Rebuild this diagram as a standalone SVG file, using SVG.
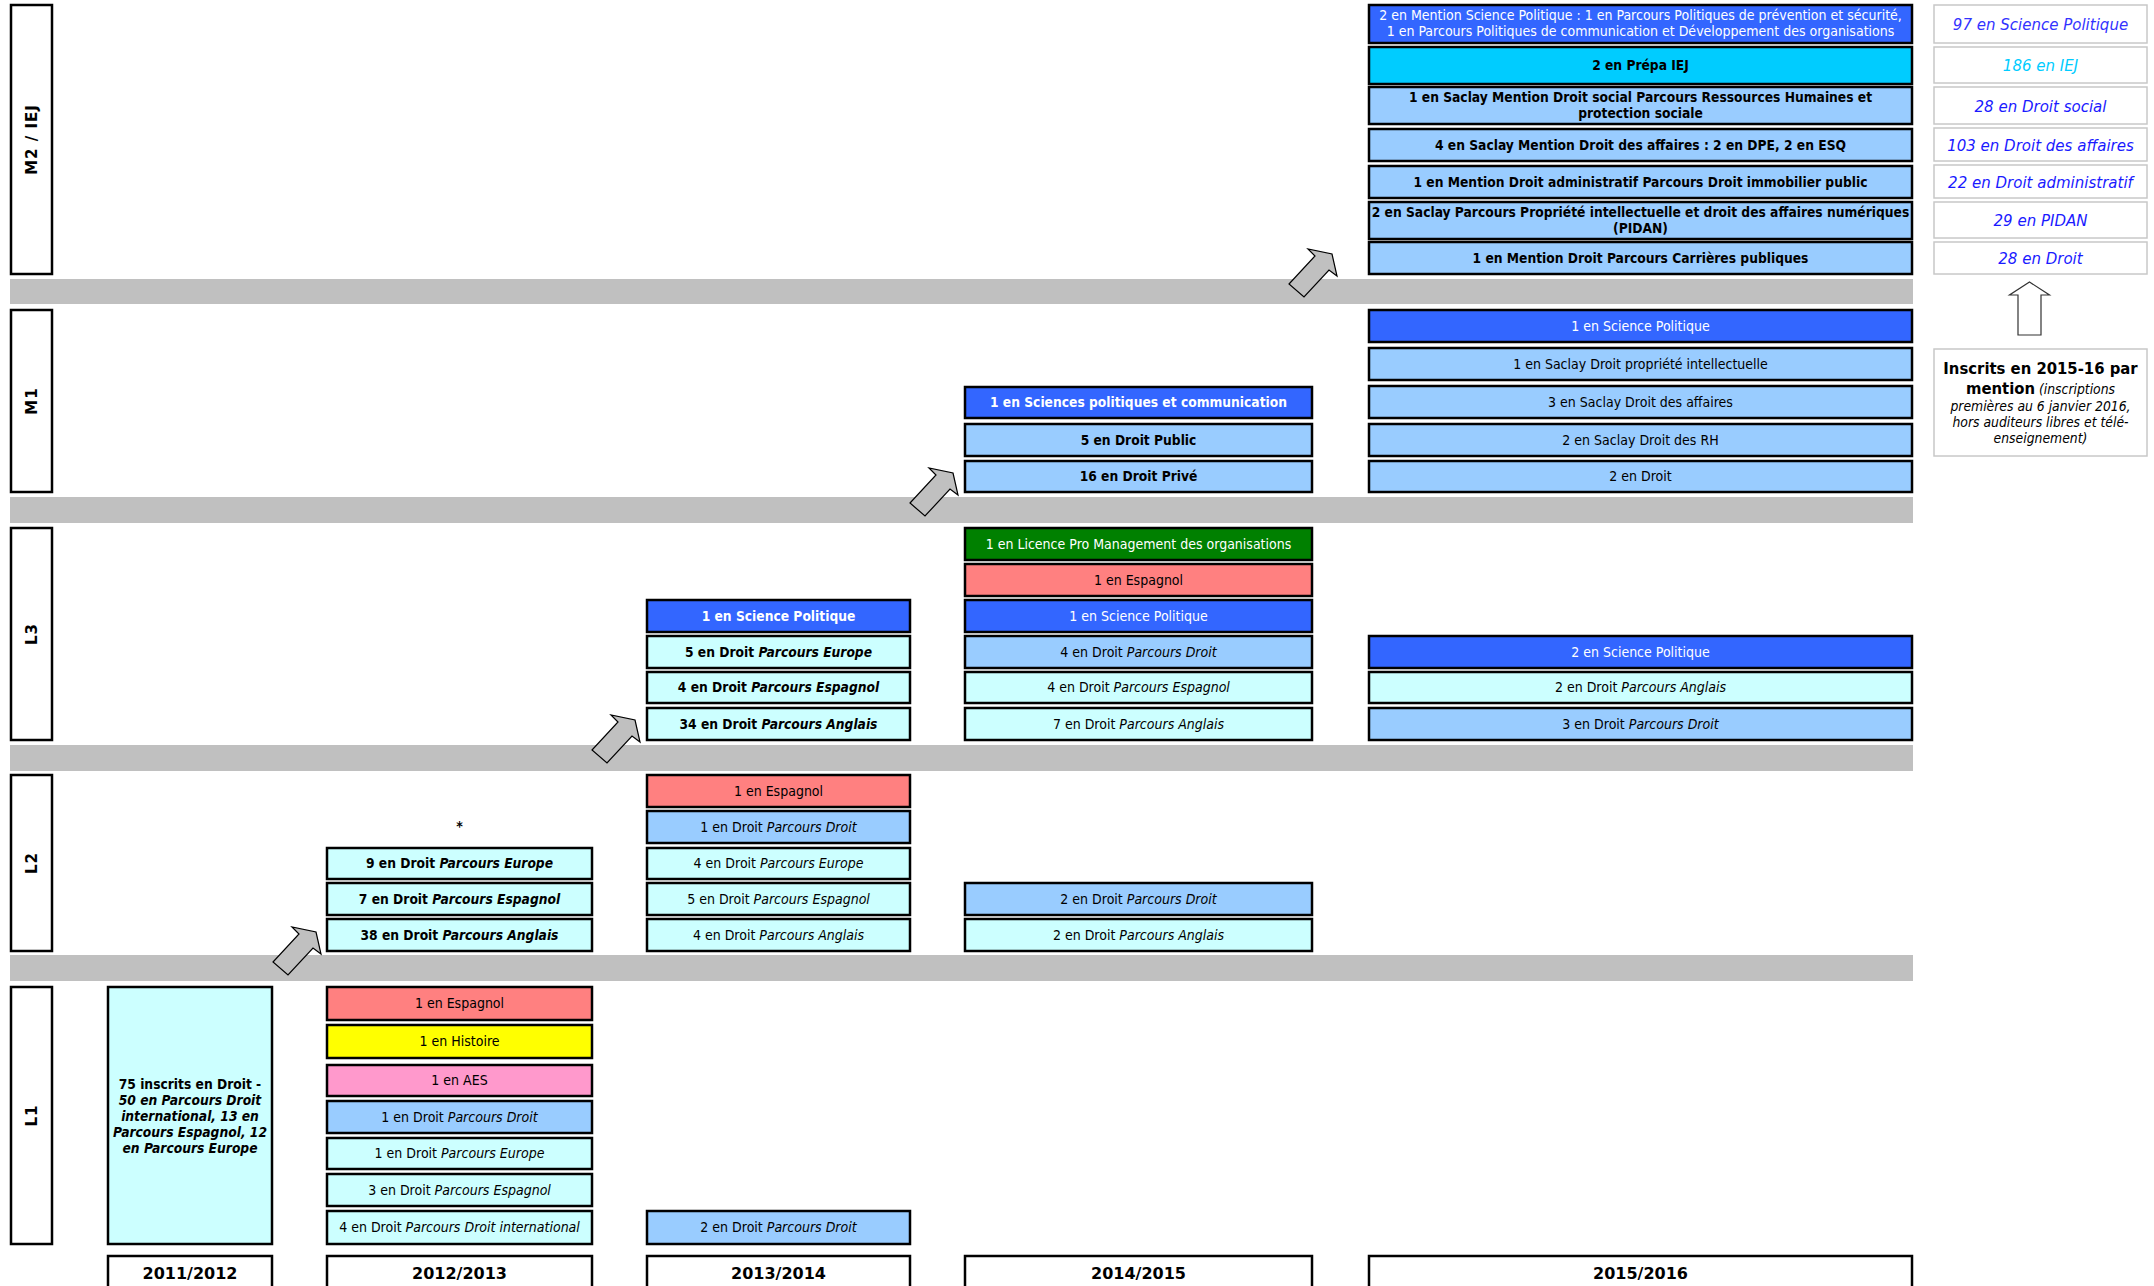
<svg xmlns="http://www.w3.org/2000/svg" width="2154" height="1286" viewBox="0 0 2154 1286">
<style>
.bx{stroke:#000;stroke-width:2.5}
.rb{fill:#fff;stroke:#c8c8c8;stroke-width:1.5}
.band{fill:#c0c0c0}
.t{font-family:"DejaVu Sans Condensed","DejaVu Sans",sans-serif;font-size:14px;text-anchor:middle;fill:#000}
.w{fill:#fff}
.bd{font-weight:bold;font-size:13.7px}
.it{font-style:italic}
.lv{font-family:"DejaVu Sans",sans-serif;font-size:15px;font-weight:bold;text-anchor:middle;letter-spacing:1px}
.yr{font-family:"DejaVu Sans",sans-serif;font-size:16px;font-weight:bold;text-anchor:middle}
.rt{font-family:"DejaVu Sans Condensed","DejaVu Sans",sans-serif;font-size:16.7px;font-style:italic;text-anchor:middle;fill:#1a1aff}
.sm{font-style:italic;font-size:13.8px;font-weight:normal}
.c1{fill:#3366ff}.c2{fill:#99ccff}.c3{fill:#ccffff}.c4{fill:#ff8080}.c5{fill:#00ccff}.c6{fill:#008000}.c7{fill:#ffff00}.c8{fill:#ff99cc}
</style>
<defs>
<polygon id="arr" points="0,0 5,22 -3,16 -28,43 -43,30 -17,2 -24,-5" fill="#c0c0c0" stroke="#000" stroke-width="1.2" stroke-linejoin="miter"/>
</defs>
<rect width="2154" height="1286" fill="#fff"/>

<g id="bands">
<rect class="band" x="10" y="279" width="1903" height="25"/>
<rect class="band" x="10" y="497" width="1903" height="26"/>
<rect class="band" x="10" y="745" width="1903" height="26"/>
<rect class="band" x="10" y="955" width="1903" height="26"/>
</g>

<g id="levels">
<g id="lv-m2"><rect x="11" y="5" width="41" height="269" fill="#fff" class="bx"/><text class="lv" transform="translate(37,139.5) rotate(-90)">M2 / IEJ</text></g>
<g id="lv-m1"><rect x="11" y="310" width="41" height="182" fill="#fff" class="bx"/><text class="lv" transform="translate(37,401) rotate(-90)">M1</text></g>
<g id="lv-l3"><rect x="11" y="528" width="41" height="212" fill="#fff" class="bx"/><text class="lv" transform="translate(37,634) rotate(-90)">L3</text></g>
<g id="lv-l2"><rect x="11" y="775" width="41" height="176" fill="#fff" class="bx"/><text class="lv" transform="translate(37,863) rotate(-90)">L2</text></g>
<g id="lv-l1"><rect x="11" y="987" width="41" height="257" fill="#fff" class="bx"/><text class="lv" transform="translate(37,1115.5) rotate(-90)">L1</text></g>
</g>

<g id="years">
<g id="y2011"><rect x="108" y="1256" width="164" height="40" fill="#fff" class="bx"/><text class="yr" x="190" y="1279">2011/2012</text></g>
<g id="y2012"><rect x="327" y="1256" width="265" height="40" fill="#fff" class="bx"/><text class="yr" x="459.5" y="1279">2012/2013</text></g>
<g id="y2013"><rect x="647" y="1256" width="263" height="40" fill="#fff" class="bx"/><text class="yr" x="778.5" y="1279">2013/2014</text></g>
<g id="y2014"><rect x="965" y="1256" width="347" height="40" fill="#fff" class="bx"/><text class="yr" x="1138.5" y="1279">2014/2015</text></g>
<g id="y2015"><rect x="1369" y="1256" width="543" height="40" fill="#fff" class="bx"/><text class="yr" x="1640.5" y="1279">2015/2016</text></g>
</g>

<!-- M2 / IEJ -->
<g id="m2-1"><rect x="1369" y="5" width="543" height="38" class="bx c1"/><text class="t w" x="1640.5" y="20">2 en Mention Science Politique : 1 en Parcours Politiques de prévention et sécurité,</text><text class="t w" x="1640.5" y="36">1 en Parcours Politiques de communication et Développement des organisations</text></g>
<g id="m2-2"><rect x="1369" y="47" width="543" height="37" class="bx c5"/><text class="t bd" x="1640.5" y="70">2 en Prépa IEJ</text></g>
<g id="m2-3"><rect x="1369" y="87" width="543" height="37" class="bx c2"/><text class="t bd" x="1640.5" y="102">1 en Saclay Mention Droit social Parcours Ressources Humaines et</text><text class="t bd" x="1640.5" y="118">protection sociale</text></g>
<g id="m2-4"><rect x="1369" y="129" width="543" height="32" class="bx c2"/><text class="t bd" x="1640.5" y="149.5">4 en Saclay Mention Droit des affaires : 2 en DPE, 2 en ESQ</text></g>
<g id="m2-5"><rect x="1369" y="166" width="543" height="32" class="bx c2"/><text class="t bd" x="1640.5" y="186.5">1 en Mention Droit administratif Parcours Droit immobilier public</text></g>
<g id="m2-6"><rect x="1369" y="202" width="543" height="37" class="bx c2"/><text class="t bd" x="1640.5" y="217">2 en Saclay Parcours Propriété intellectuelle et droit des affaires numériques</text><text class="t bd" x="1640.5" y="233">(PIDAN)</text></g>
<g id="m2-7"><rect x="1369" y="242" width="543" height="32" class="bx c2"/><text class="t bd" x="1640.5" y="262.5">1 en Mention Droit Parcours Carrières publiques</text></g>

<!-- right column -->
<g id="r1"><rect x="1934" y="5" width="213" height="38" class="rb"/><text class="rt" x="2040.5" y="30" style="fill:#3333ff">97 en Science Politique</text></g>
<g id="r2"><rect x="1934" y="47" width="213" height="36" class="rb"/><text class="rt" x="2040.5" y="71" style="fill:#00ccff">186 en IEJ</text></g>
<g id="r3"><rect x="1934" y="87" width="213" height="37" class="rb"/><text class="rt" x="2040.5" y="111.5">28 en Droit social</text></g>
<g id="r4"><rect x="1934" y="128" width="213" height="33" class="rb"/><text class="rt" x="2040.5" y="150.5">103 en Droit des affaires</text></g>
<g id="r5"><rect x="1934" y="165" width="213" height="33" class="rb"/><text class="rt" x="2040.5" y="187.5">22 en Droit administratif</text></g>
<g id="r6"><rect x="1934" y="202" width="213" height="36" class="rb"/><text class="rt" x="2040.5" y="226">29 en PIDAN</text></g>
<g id="r7"><rect x="1934" y="242" width="213" height="32" class="rb"/><text class="rt" x="2040.5" y="264">28 en Droit</text></g>
<g id="up-arrow"><polygon points="2029.5,282 2049.5,295 2041,295 2041,335 2018,335 2018,295 2009.5,295" fill="#fff" stroke="#333" stroke-width="1.2"/></g>
<g id="legend"><rect x="1934" y="349" width="213" height="107" class="rb"/>
<text class="t bd" x="2040.5" y="374" style="font-size:16.5px">Inscrits en 2015-16 par</text>
<text class="t" x="2040.5" y="394"><tspan class="bd" style="font-size:16.5px">mention</tspan><tspan class="sm"> (inscriptions</tspan></text>
<text class="t sm" x="2040.5" y="411">premières au 6 janvier 2016,</text>
<text class="t sm" x="2040.5" y="427">hors auditeurs libres et télé-</text>
<text class="t sm" x="2040.5" y="443">enseignement)</text>
</g>

<!-- M1 -->
<g id="m1-a1"><rect x="965" y="387" width="347" height="31" class="bx c1"/><text class="t w bd" x="1138.5" y="407">1 en Sciences politiques et communication</text></g>
<g id="m1-a2"><rect x="965" y="424" width="347" height="32" class="bx c2"/><text class="t bd" x="1138.5" y="444.5">5 en Droit Public</text></g>
<g id="m1-a3"><rect x="965" y="461" width="347" height="31" class="bx c2"/><text class="t bd" x="1138.5" y="481">16 en Droit Privé</text></g>
<g id="m1-b1"><rect x="1369" y="310" width="543" height="32" class="bx c1"/><text class="t w" x="1640.5" y="330.5">1 en Science Politique</text></g>
<g id="m1-b2"><rect x="1369" y="348" width="543" height="32" class="bx c2"/><text class="t" x="1640.5" y="368.5">1 en Saclay Droit propriété intellectuelle</text></g>
<g id="m1-b3"><rect x="1369" y="386" width="543" height="32" class="bx c2"/><text class="t" x="1640.5" y="406.5">3 en Saclay Droit des affaires</text></g>
<g id="m1-b4"><rect x="1369" y="424" width="543" height="32" class="bx c2"/><text class="t" x="1640.5" y="444.5">2 en Saclay Droit des RH</text></g>
<g id="m1-b5"><rect x="1369" y="461" width="543" height="31" class="bx c2"/><text class="t" x="1640.5" y="481">2 en Droit</text></g>

<!-- L3 -->
<g id="l3-a1"><rect x="647" y="600" width="263" height="32" class="bx c1"/><text class="t w bd" x="778.5" y="620.5">1 en Science Politique</text></g>
<g id="l3-a2"><rect x="647" y="636" width="263" height="32" class="bx c3"/><text class="t bd" x="778.5" y="656.5">5 en Droit <tspan class="it">Parcours Europe</tspan></text></g>
<g id="l3-a3"><rect x="647" y="672" width="263" height="31" class="bx c3"/><text class="t bd" x="778.5" y="692">4 en Droit <tspan class="it">Parcours Espagnol</tspan></text></g>
<g id="l3-a4"><rect x="647" y="708" width="263" height="32" class="bx c3"/><text class="t bd" x="778.5" y="728.5">34 en Droit <tspan class="it">Parcours Anglais</tspan></text></g>
<g id="l3-b1"><rect x="965" y="528" width="347" height="32" class="bx c6"/><text class="t w" x="1138.5" y="548.5">1 en Licence Pro Management des organisations</text></g>
<g id="l3-b2"><rect x="965" y="564" width="347" height="32" class="bx c4"/><text class="t" x="1138.5" y="584.5">1 en Espagnol</text></g>
<g id="l3-b3"><rect x="965" y="600" width="347" height="32" class="bx c1"/><text class="t w" x="1138.5" y="620.5">1 en Science Politique</text></g>
<g id="l3-b4"><rect x="965" y="636" width="347" height="32" class="bx c2"/><text class="t" x="1138.5" y="656.5">4 en Droit <tspan class="it">Parcours Droit</tspan></text></g>
<g id="l3-b5"><rect x="965" y="672" width="347" height="31" class="bx c3"/><text class="t" x="1138.5" y="692">4 en Droit <tspan class="it">Parcours Espagnol</tspan></text></g>
<g id="l3-b6"><rect x="965" y="708" width="347" height="32" class="bx c3"/><text class="t" x="1138.5" y="728.5">7 en Droit <tspan class="it">Parcours Anglais</tspan></text></g>
<g id="l3-c1"><rect x="1369" y="636" width="543" height="32" class="bx c1"/><text class="t w" x="1640.5" y="656.5">2 en Science Politique</text></g>
<g id="l3-c2"><rect x="1369" y="672" width="543" height="31" class="bx c3"/><text class="t" x="1640.5" y="692">2 en Droit <tspan class="it">Parcours Anglais</tspan></text></g>
<g id="l3-c3"><rect x="1369" y="708" width="543" height="32" class="bx c2"/><text class="t" x="1640.5" y="728.5">3 en Droit <tspan class="it">Parcours Droit</tspan></text></g>

<!-- L2 -->
<g id="l2-star"><text class="t bd" x="459.5" y="831" style="font-size:14px">*</text></g>
<g id="l2-a1"><rect x="327" y="848" width="265" height="31" class="bx c3"/><text class="t bd" x="459.5" y="868">9 en Droit <tspan class="it">Parcours Europe</tspan></text></g>
<g id="l2-a2"><rect x="327" y="883" width="265" height="32" class="bx c3"/><text class="t bd" x="459.5" y="903.5">7 en Droit <tspan class="it">Parcours Espagnol</tspan></text></g>
<g id="l2-a3"><rect x="327" y="919" width="265" height="32" class="bx c3"/><text class="t bd" x="459.5" y="939.5">38 en Droit <tspan class="it">Parcours Anglais</tspan></text></g>
<g id="l2-b1"><rect x="647" y="775" width="263" height="32" class="bx c4"/><text class="t" x="778.5" y="795.5">1 en Espagnol</text></g>
<g id="l2-b2"><rect x="647" y="811" width="263" height="32" class="bx c2"/><text class="t" x="778.5" y="831.5">1 en Droit <tspan class="it">Parcours Droit</tspan></text></g>
<g id="l2-b3"><rect x="647" y="848" width="263" height="31" class="bx c3"/><text class="t" x="778.5" y="868">4 en Droit <tspan class="it">Parcours Europe</tspan></text></g>
<g id="l2-b4"><rect x="647" y="883" width="263" height="32" class="bx c3"/><text class="t" x="778.5" y="903.5">5 en Droit <tspan class="it">Parcours Espagnol</tspan></text></g>
<g id="l2-b5"><rect x="647" y="919" width="263" height="32" class="bx c3"/><text class="t" x="778.5" y="939.5">4 en Droit <tspan class="it">Parcours Anglais</tspan></text></g>
<g id="l2-c1"><rect x="965" y="883" width="347" height="32" class="bx c2"/><text class="t" x="1138.5" y="903.5">2 en Droit <tspan class="it">Parcours Droit</tspan></text></g>
<g id="l2-c2"><rect x="965" y="919" width="347" height="32" class="bx c3"/><text class="t" x="1138.5" y="939.5">2 en Droit <tspan class="it">Parcours Anglais</tspan></text></g>

<!-- L1 -->
<g id="l1-a"><rect x="108" y="987" width="164" height="257" class="bx c3"/>
<text class="t bd" x="190" y="1089">75 inscrits en Droit -</text>
<text class="t bd it" x="190" y="1105">50 en Parcours Droit</text>
<text class="t bd it" x="190" y="1121">international, 13 en</text>
<text class="t bd it" x="190" y="1137">Parcours Espagnol, 12</text>
<text class="t bd it" x="190" y="1153">en Parcours Europe</text>
</g>
<g id="l1-b1"><rect x="327" y="987" width="265" height="33" class="bx c4"/><text class="t" x="459.5" y="1008">1 en Espagnol</text></g>
<g id="l1-b2"><rect x="327" y="1025" width="265" height="33" class="bx c7"/><text class="t" x="459.5" y="1046">1 en Histoire</text></g>
<g id="l1-b3"><rect x="327" y="1065" width="265" height="31" class="bx c8"/><text class="t" x="459.5" y="1085">1 en AES</text></g>
<g id="l1-b4"><rect x="327" y="1101" width="265" height="32" class="bx c2"/><text class="t" x="459.5" y="1121.5">1 en Droit <tspan class="it">Parcours Droit</tspan></text></g>
<g id="l1-b5"><rect x="327" y="1138" width="265" height="31" class="bx c3"/><text class="t" x="459.5" y="1158">1 en Droit <tspan class="it">Parcours Europe</tspan></text></g>
<g id="l1-b6"><rect x="327" y="1174" width="265" height="32" class="bx c3"/><text class="t" x="459.5" y="1194.5">3 en Droit <tspan class="it">Parcours Espagnol</tspan></text></g>
<g id="l1-b7"><rect x="327" y="1211" width="265" height="33" class="bx c3"/><text class="t" x="459.5" y="1232">4 en Droit <tspan class="it">Parcours Droit international</tspan></text></g>
<g id="l1-c1"><rect x="647" y="1211" width="263" height="33" class="bx c2"/><text class="t" x="778.5" y="1232">2 en Droit <tspan class="it">Parcours Droit</tspan></text></g>

<g id="connectors">
<use href="#arr" x="316" y="932"/>
<use href="#arr" x="635" y="720"/>
<use href="#arr" x="953" y="473"/>
<use href="#arr" x="1332" y="254"/>
</g>
</svg>
